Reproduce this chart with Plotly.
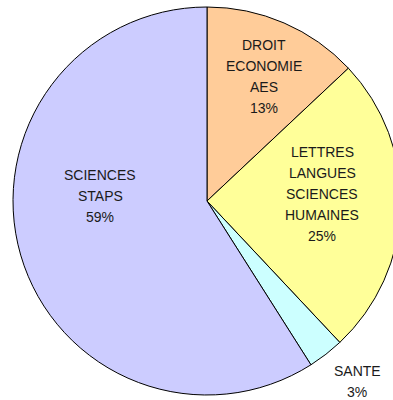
import plotly.graph_objects as go

# Répartition des étudiants par filière
labels = ["DROIT<br>ECONOMIE<br>AES", "LETTRES<br>LANGUES<br>SCIENCES<br>HUMAINES", "SANTE", "SCIENCES<br>STAPS"]
values = [13, 25, 3, 59]
colors = ["#FFCC99", "#FFFF99", "#CCFFFF", "#CCCCFF"]

# label block centres (pixels) and line spacing
label_pos = [(264, 45), (322, 152), (357, 371), (100, 175)]
line_gap = 21

W, H = 414, 400
cx, cy, r = 207, 201, 194

fig = go.Figure(go.Pie(
    labels=labels,
    values=values,
    sort=False,
    direction="clockwise",
    rotation=0,
    marker=dict(colors=colors, line=dict(color="#000000", width=1)),
    textinfo="none",
    hoverinfo="label+percent",
    showlegend=False,
    domain=dict(x=[(cx - r) / W, (cx + r) / W], y=[1 - (cy + r) / H, 1 - (cy - r) / H]),
))

annotations = []
total = sum(values)
for lab, val, (px, py) in zip(labels, values, label_pos):
    lines = lab.split("<br>") + [f"{round(100 * val / total)}%"]
    for i, line in enumerate(lines):
        annotations.append(dict(
            x=px / W, y=1 - (py + i * line_gap) / H,
            xref="paper", yref="paper",
            text=line, showarrow=False,
            xanchor="center", yanchor="middle",
            font=dict(family="Liberation Sans, Arial, sans-serif", size=14, color="#1a1a1a"),
        ))

fig.update_layout(
    width=W, height=H,
    margin=dict(l=0, r=0, t=0, b=0),
    paper_bgcolor="white",
    plot_bgcolor="white",
    annotations=annotations,
)

fig.write_html(
    "out.html",
    post_script="document.documentElement.style.overflow='hidden';document.body.style.overflow='hidden';document.body.style.margin='0';",
)
